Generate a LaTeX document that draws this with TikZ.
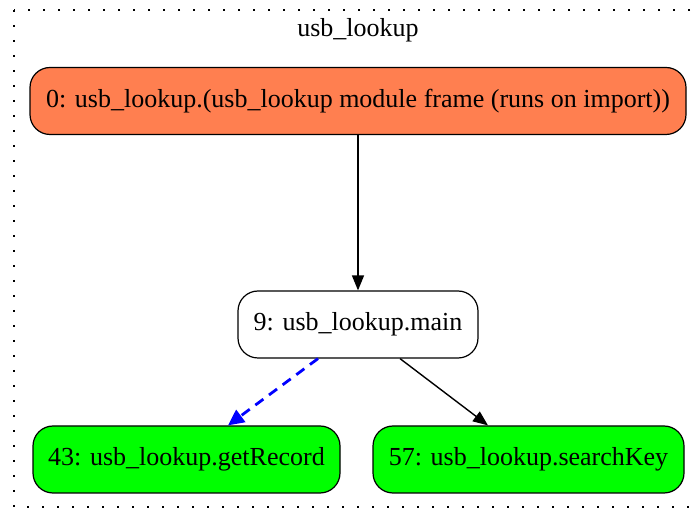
\documentclass[tikz,border=0pt]{standalone}
\usepackage{fontspec}
\setmainfont{Liberation Serif}
\usetikzlibrary{arrows.meta}
\definecolor{coralc}{HTML}{FF7F50}
\definecolor{greenc}{HTML}{00FF00}
\tikzset{
  fn/.style={draw=black, line width=1.2pt, rounded corners=20pt, minimum height=67pt, inner sep=0pt, font=\fontsize{26}{30}\selectfont, anchor=center},
  edge/.style={line width=1.4pt, -{Triangle[length=15pt,width=12pt]}},
  dedge/.style={draw=blue, line width=2.8pt, dash pattern=on 10pt off 7pt, -{Triangle[length=16pt,width=15pt]}},
}
\begin{document}
\begin{tikzpicture}[x=1pt,y=-1pt]
\useasboundingbox (0,0) rectangle (697,510);
\draw[line width=2pt, dash pattern=on 2pt off 13pt] (14,10) rectangle (710,507);
\node[font=\fontsize{26}{30}\selectfont] (title) at (358,30) {usb\_lookup};
\node[fn, fill=coralc, minimum width=656pt] (n0) at (358,101) {0: usb\_lookup.(usb\_lookup module frame (runs on import))};
\node[fn, fill=white, minimum width=240pt] (n9) at (358,324.5) {9: usb\_lookup.main};
\node[fn, fill=greenc, minimum width=307pt] (n43) at (186.5,459.5) {43: usb\_lookup.getRecord};
\node[fn, fill=greenc, minimum width=311pt] (n57) at (528.5,459.5) {57: usb\_lookup.searchKey};
\draw[edge] (n0.south) -- (n9.north);
\draw[dedge] (n9.south -| 318,0) -- (n43.north -| 228,0);
\draw[edge] (n9.south -| 400,0) -- (n57.north -| 488,0);
\end{tikzpicture}
\end{document}
